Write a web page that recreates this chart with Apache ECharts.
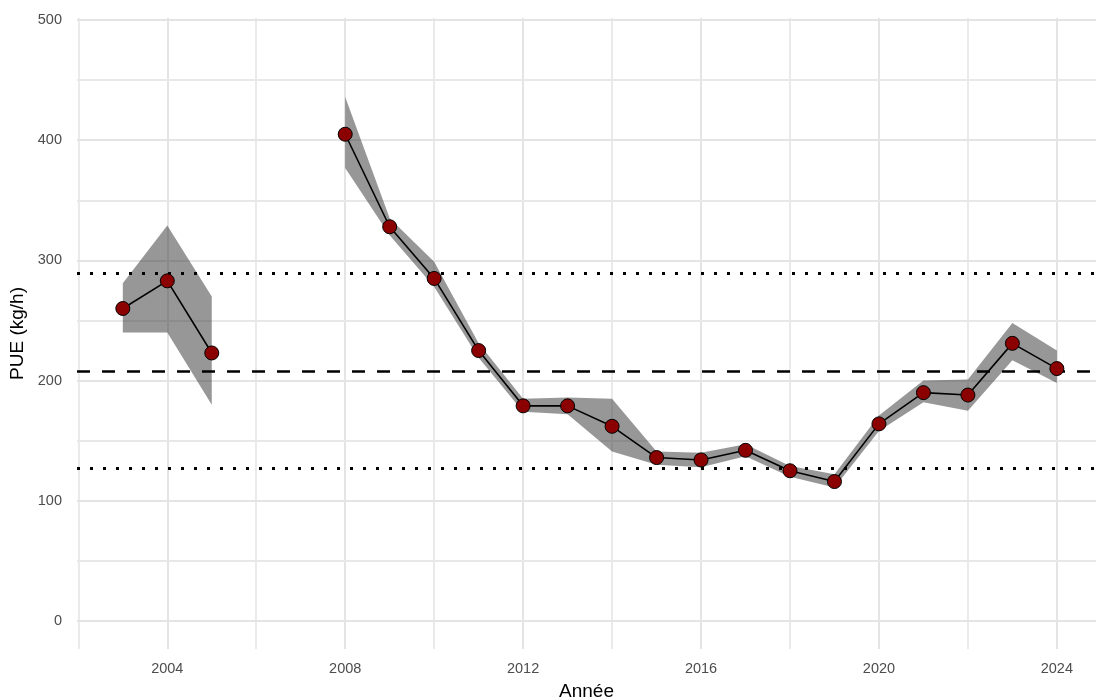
<!DOCTYPE html>
<html>
<head>
<meta charset="utf-8">
<script src="https://cdn.jsdelivr.net/npm/echarts@6/dist/echarts.min.js"></script>
<style>html,body{margin:0;padding:0;background:#fff}#c{width:1096px;height:700px}</style>
</head>
<body>
<div id="c"></div>
<script>
// ---- data ----
const years = [2003, 2004, 2005, 2008, 2009, 2010, 2011, 2012, 2013, 2014, 2015, 2016, 2017, 2018, 2019, 2020, 2021, 2022, 2023, 2024];
const pue   = [260, 283, 223, 405, 328, 285, 225, 179, 179, 162, 136, 134, 142, 125, 116, 164, 190, 188, 231, 210];
const lower = [240, 240, 180, 377, 321, 278, 219, 174, 172, 141, 130, 128, 137, 120, 111, 158, 182, 175, 217, 198];
const upper = [281, 329, 270, 436, 335, 299, 231, 185, 186, 185, 141, 140, 147, 129, 122, 171, 200, 201, 248, 225];
const meanLine = 208;
const upperLine = 289;
const lowerLine = 127.5;
const xMajorTicks = [2004, 2008, 2012, 2016, 2020, 2024];
const xMinorTicks = [2002, 2006, 2010, 2014, 2018, 2022];
const yMajorTicks = [0, 100, 200, 300, 400, 500];
const yMinorTicks = [50, 150, 250, 350, 450];

// ---- build ----
const lineData = [];
years.forEach((y, i) => {
  if (i > 0 && y - years[i - 1] > 1) lineData.push([years[i - 1] + 1, '-']);
  lineData.push([y, pue[i]]);
});
const bandData = years.map((y, i) => [y, lower[i], upper[i]]);

const gl = {color: '#e4e4e4', width: 2, type: 'solid'};
const glMinor = {color: '#e8e8e8', width: 1.8, type: 'solid'};
const gridLines = [];
xMajorTicks.forEach(v => gridLines.push({xAxis: v, lineStyle: gl}));
xMinorTicks.forEach(v => gridLines.push({xAxis: v, lineStyle: glMinor}));
yMajorTicks.forEach(v => gridLines.push({yAxis: v, lineStyle: gl}));
yMinorTicks.forEach(v => gridLines.push({yAxis: v, lineStyle: glMinor}));

const chart = echarts.init(document.getElementById('c'), null, {renderer: 'canvas'});
const font = '"Liberation Sans", Arial, sans-serif';
chart.setOption({
  animation: false,
  backgroundColor: '#ffffff',
  grid: {left: 77, right: 0, top: 18, bottom: 51, containLabel: false, outerBoundsMode: 'none'},
  xAxis: {
    type: 'value', min: 2001.97, max: 2024.88,
    name: 'Année', nameLocation: 'middle', nameGap: 33,
    nameTextStyle: {fontFamily: font, fontSize: 19, color: '#000'},
    axisLine: {show: false}, axisTick: {show: false}, splitLine: {show: false},
    axisLabel: {customValues: xMajorTicks, formatter: v => String(v), fontFamily: font, fontSize: 14.5, color: '#4d4d4d', margin: 12}
  },
  yAxis: {
    type: 'value', min: -23.3, max: 501.7,
    name: 'PUE (kg/h)', nameLocation: 'middle', nameGap: 41, nameRotate: 90,
    nameTextStyle: {fontFamily: font, fontSize: 19, color: '#000'},
    axisLine: {show: false}, axisTick: {show: false}, splitLine: {show: false},
    axisLabel: {customValues: yMajorTicks, formatter: v => String(v), fontFamily: font, fontSize: 14.5, color: '#4d4d4d', margin: 15}
  },
  series: [
    {
      type: 'line', z: 1, data: [], silent: true,
      markLine: {z: 1, silent: true, symbol: 'none', label: {show: false}, animation: false, data: gridLines}
    },
    {
      type: 'custom', z: 2, silent: true,
      data: bandData,
      encode: {x: 0, y: [1, 2]},
      renderItem: function (params, api) {
        const i = params.dataIndex;
        if (i > 0 && years[i] - years[i - 1] === 1) return null;
        let j = i;
        while (j + 1 < years.length && years[j + 1] - years[j] === 1) j++;
        const top = [], bot = [];
        for (let k = i; k <= j; k++) {
          top.push(api.coord([years[k], upper[k]]));
          bot.unshift(api.coord([years[k], lower[k]]));
        }
        return {type: 'polygon', shape: {points: top.concat(bot)}, style: {fill: 'rgba(55,55,55,0.52)'}};
      }
    },
    {
      type: 'line', z: 3, data: [], silent: true,
      markLine: {
        z: 3, silent: true, symbol: 'none', label: {show: false}, animation: false,
        data: [
          {yAxis: meanLine, lineStyle: {color: '#000', width: 2.6, type: [13, 12], cap: 'butt'}},
          {yAxis: upperLine, lineStyle: {color: '#000', width: 3, type: [3, 10], cap: 'butt'}},
          {yAxis: lowerLine, lineStyle: {color: '#000', width: 3, type: [3, 10], cap: 'butt'}}
        ]
      }
    },
    {
      type: 'line', z: 6, data: lineData, connectNulls: false, clip: false,
      lineStyle: {color: '#000', width: 1.6},
      symbol: 'circle', symbolSize: 14, showAllSymbol: true,
      itemStyle: {color: '#8b0000', borderColor: '#000', borderWidth: 1},
      silent: true
    }
  ]
});
</script>
</body>
</html>
